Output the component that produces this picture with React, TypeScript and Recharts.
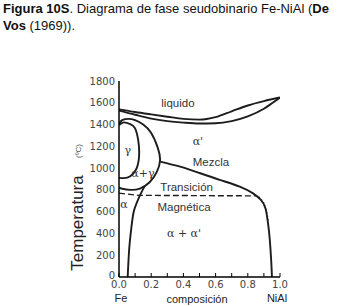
import { LineChart, Line, XAxis, YAxis, ReferenceDot } from "recharts";

const xTicks = [0, 0.1, 0.2, 0.3, 0.4, 0.5, 0.6, 0.7, 0.8, 0.9, 1.0];
const yTicks = [0, 200, 400, 600, 800, 1000, 1200, 1400, 1600, 1800];

// curves (x = fraccion NiAl, t = ºC)
const liquidus = [
  { x: 0, t: 1540 }, { x: 0.1, t: 1515 }, { x: 0.2, t: 1493 }, { x: 0.3, t: 1472 },
  { x: 0.4, t: 1452 }, { x: 0.5, t: 1445 }, { x: 0.6, t: 1468 }, { x: 0.7, t: 1522 },
  { x: 0.8, t: 1575 }, { x: 0.9, t: 1615 }, { x: 1.0, t: 1648 },
];
const solidus = [
  { x: 0, t: 1528 }, { x: 0.1, t: 1490 }, { x: 0.2, t: 1455 }, { x: 0.3, t: 1432 },
  { x: 0.4, t: 1418 }, { x: 0.5, t: 1410 }, { x: 0.6, t: 1412 }, { x: 0.7, t: 1432 },
  { x: 0.8, t: 1475 }, { x: 0.9, t: 1545 }, { x: 0.95, t: 1595 }, { x: 1.0, t: 1648 },
];
const gammaLoop = [
  { x: 0, t: 1395 }, { x: 0.03, t: 1420 }, { x: 0.07, t: 1405 }, { x: 0.1, t: 1365 },
  { x: 0.12, t: 1250 }, { x: 0.125, t: 1120 }, { x: 0.11, t: 1000 }, { x: 0.07, t: 925 },
  { x: 0.03, t: 908 }, { x: 0, t: 910 },
];
const alphaGammaLoop = [
  { x: 0, t: 1405 }, { x: 0.02, t: 1440 }, { x: 0.06, t: 1452 }, { x: 0.1, t: 1440 },
  { x: 0.15, t: 1400 }, { x: 0.2, t: 1322 }, { x: 0.24, t: 1190 }, { x: 0.255, t: 1075 },
  { x: 0.235, t: 965 }, { x: 0.19, t: 870 }, { x: 0.13, t: 812 }, { x: 0.07, t: 800 },
  { x: 0.02, t: 810 }, { x: 0, t: 820 },
];
const alphaSolvus = [
  { x: 0.16, t: 835 }, { x: 0.13, t: 750 }, { x: 0.11, t: 680 }, { x: 0.09, t: 590 },
  { x: 0.075, t: 430 }, { x: 0.063, t: 250 }, { x: 0.054, t: 0 },
];
const mezclaBoundary = [
  { x: 0.255, t: 1060 }, { x: 0.38, t: 1013 }, { x: 0.5, t: 955 }, { x: 0.63, t: 890 },
  { x: 0.75, t: 830 }, { x: 0.83, t: 770 }, { x: 0.88, t: 710 }, { x: 0.91, t: 630 },
  { x: 0.925, t: 500 }, { x: 0.935, t: 370 }, { x: 0.945, t: 160 }, { x: 0.95, t: 0 },
];
const magneticLine = [
  { x: 0, t: 770 }, { x: 0.12, t: 750 }, { x: 0.85, t: 745 },
];
const dottedEdge = [
  { x: 0.87, t: 735 }, { x: 0.895, t: 690 }, { x: 0.91, t: 640 }, { x: 0.92, t: 580 },
  { x: 0.927, t: 520 },
];

const regionLabels = [
  { x: 0.366, t: 1597, text: "liquido", serif: false },
  { x: 0.49, t: 1248, text: "α'", serif: true },
  { x: 0.571, t: 1056, text: "Mezcla", serif: false },
  { x: 0.42, t: 826, text: "Transición", serif: false },
  { x: 0.404, t: 643, text: "Magnética", serif: false },
  { x: 0.404, t: 404, text: "α + α'", serif: true },
  { x: 0.054, t: 1166, text: "γ", serif: true },
  { x: 0.149, t: 955, text: "α+γ", serif: true },
  { x: 0.031, t: 670, text: "α", serif: true },
];

const ink = "#1c1c1c";
const tickFont = { fill: "#444", fontSize: 10, fontFamily: "DejaVu Sans" };

// inward tick marks, labels only on the bottom / left
const BottomTick = (p: any) => {
  const v = p.payload.value;
  const labelled = Math.round(v * 10) % 2 === 0;
  return (
    <g>
      <line x1={p.x} x2={p.x} y1={p.y} y2={p.y - 4} stroke="#000" strokeWidth={1} />
      {labelled && (
        <text x={p.x} y={p.y + 4} dy="0.71em" textAnchor="middle" {...tickFont}>
          {v.toFixed(1)}
        </text>
      )}
    </g>
  );
};
const LeftTick = (p: any) => (
  <text
    x={p.x}
    y={p.payload.value === 0 ? p.y - 2 : p.y}
    dy="0.355em"
    textAnchor="end"
    {...tickFont}
  >
    {p.payload.value}
  </text>
);
const TopTick = (p: any) => (
  <line x1={p.x} x2={p.x} y1={p.y} y2={p.y + 4} stroke="#000" strokeWidth={1} />
);
const RightTick = (p: any) => (
  <line x1={p.x} x2={p.x - 4} y1={p.y} y2={p.y} stroke="#000" strokeWidth={1} />
);

export default function App() {
  const curve = (data: { x: number; t: number }[], type: any, key: string, extra: any = {}) => (
    <Line
      key={key}
      data={data}
      dataKey="t"
      type={type}
      stroke={ink}
      strokeWidth={1.9}
      dot={false}
      activeDot={false}
      isAnimationActive={false}
      {...extra}
    />
  );

  return (
    <div
      style={{
        position: "absolute",
        left: 0,
        top: 0,
        width: 358,
        height: 306,
        background: "#fff",
        overflow: "hidden",
      }}
    >
      <div
        style={{
          position: "absolute",
          left: 3,
          top: 0,
          fontFamily: "Liberation Sans, Arial, sans-serif",
          fontSize: 13,
          lineHeight: "17px",
          color: "#111",
          whiteSpace: "nowrap",
        }}
      >
        <b>Figura 10S</b>. Diagrama de fase seudobinario Fe-NiAl (<b>De</b>
        <br />
        <b>Vos</b> (1969)).
      </div>

      <div style={{ position: "absolute", left: 0, top: 0 }}>
        <LineChart width={358} height={306} margin={{ top: 81, right: 78, bottom: 0, left: 79 }}>
          <XAxis
            dataKey="x"
            type="number"
            domain={[0, 1]}
            ticks={xTicks}
            height={29}
            tickSize={0}
            tickMargin={0}
            interval={0}
            tick={<BottomTick />}
            tickLine={false}
            axisLine={{ stroke: "#000", strokeWidth: 1.5 }}
            allowDataOverflow
          />
          <XAxis
            xAxisId="top"
            orientation="top"
            dataKey="x"
            type="number"
            domain={[0, 1]}
            ticks={xTicks}
            height={0}
            tickSize={0}
            tickMargin={0}
            interval={0}
            tick={<TopTick />}
            tickLine={false}
            axisLine={{ stroke: "#000", strokeWidth: 1.5 }}
          />
          <YAxis
            type="number"
            domain={[0, 1800]}
            ticks={yTicks}
            width={40}
            tickSize={0}
            tickMargin={4}
            interval={0}
            tick={<LeftTick />}
            tickLine={false}
            axisLine={{ stroke: "#000", strokeWidth: 1.5 }}
            allowDataOverflow
          />
          <YAxis
            yAxisId="right"
            orientation="right"
            type="number"
            domain={[0, 1800]}
            ticks={yTicks}
            width={0}
            tickSize={0}
            tickMargin={0}
            interval={0}
            tick={<RightTick />}
            tickLine={false}
            axisLine={{ stroke: "#000", strokeWidth: 1.5 }}
          />
          {curve(liquidus, "monotone", "liq")}
          {curve(solidus, "monotone", "sol")}
          {curve(gammaLoop, "natural", "gam")}
          {curve(alphaGammaLoop, "natural", "ag")}
          {curve(alphaSolvus, "natural", "asv")}
          {curve(mezclaBoundary, "natural", "mez")}
          {curve(magneticLine, "linear", "mag", { strokeDasharray: "6 3", strokeWidth: 1.4 })}
          {curve(dottedEdge, "natural", "dot", { strokeDasharray: "1 2.5", strokeWidth: 1.2 })}
          {regionLabels.map((l) => (
            <ReferenceDot
              key={l.text}
              x={l.x}
              y={l.t}
              r={0}
              ifOverflow="visible"
              shape={(p: any) => (
                <text
                  x={p.cx}
                  y={p.cy}
                  textAnchor="middle"
                  dominantBaseline="central"
                  fontSize={l.serif ? 11 : 11.5}
                  fontFamily={l.serif ? "DejaVu Serif, serif" : "Liberation Sans, Arial, sans-serif"}
                  fill="#333"
                >
                  {l.text}
                </text>
              )}
            />
          ))}
        </LineChart>
      </div>

      <svg
        width={358}
        height={306}
        style={{ position: "absolute", left: 0, top: 0, pointerEvents: "none" }}
        fontFamily="Liberation Sans, Arial, sans-serif"
      >
        <text
          x={77}
          y={223}
          transform="rotate(-90 77 223)"
          textAnchor="middle"
          dominantBaseline="central"
          fontSize={17}
          fill="#222"
        >
          Temperatura
        </text>
        <text
          x={78}
          y={151}
          transform="rotate(-90 78 151)"
          textAnchor="middle"
          dominantBaseline="central"
          fontSize={8}
          fill="#555"
        >
          (ºC)
        </text>
        <text x={121} y={298} textAnchor="middle" dominantBaseline="central" fontSize={11} fill="#222">
          Fe
        </text>
        <text x={197} y={299} textAnchor="middle" dominantBaseline="central" fontSize={11} fill="#222">
          composición
        </text>
        <text x={277} y={298} textAnchor="middle" dominantBaseline="central" fontSize={11} fill="#222">
          NiAl
        </text>
      </svg>
    </div>
  );
}
